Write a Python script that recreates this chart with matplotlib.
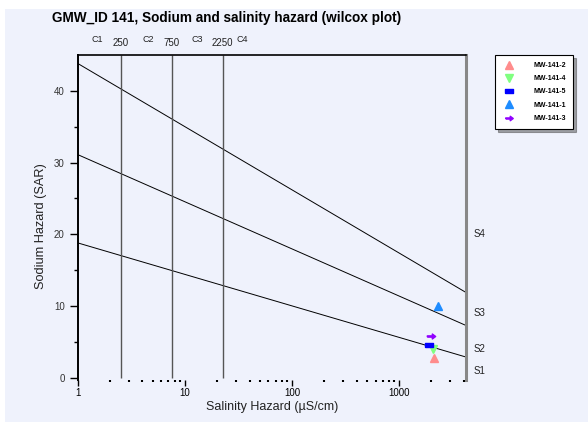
import matplotlib
matplotlib.use("Agg")
import matplotlib.pyplot as plt
from matplotlib.patches import Rectangle
import numpy as np

plt.rcParams['font.family'] = ['Liberation Sans', 'DejaVu Sans']

# ---- data ----
title = "GMW_ID 141, Sodium and salinity hazard (wilcox plot)"
boundary_x = [1, 4200]
line_s1_s2 = [18.8, 2.9]
line_s2_s3 = [31.1, 7.3]
line_s3_s4 = [43.8, 11.9]
class_lines_x = [2.5, 7.5, 22.5]
class_line_labels = ["250", "750", "2250"]
class_labels = ["C1", "C2", "C3", "C4"]
class_label_x = [1.5, 4.5, 13.0, 34.0]
sodium_labels = ["S1", "S2", "S3", "S4"]
sodium_label_y = [1.0, 4.0, 9.0, 20.0]

sample_names = ["MW-141-2", "MW-141-4", "MW-141-5", "MW-141-1", "MW-141-3"]
sample_ec = [2100, 2050, 1900, 2290, 2000]
sample_sar = [2.8, 4.0, 4.6, 10.0, 5.8]
sample_colors = ["#ff8c8c", "#80ff80", "#0000ff", "#1e8cff", "#9000ff"]

rect_marker = [(-1, -0.45), (1, -0.45), (1, 0.45), (-1, 0.45), (-1, -0.45)]
arrow_marker = [(-1, -0.15), (0.2, -0.15), (0.2, -0.6), (1, 0), (0.2, 0.6),
                (0.2, 0.15), (-1, 0.15), (-1, -0.15)]
sample_markers = ["^", "v", rect_marker, "^", arrow_marker]

bg = "#eff2fc"

fig = plt.figure(figsize=(5.88, 4.22), dpi=100)
fig.patch.set_facecolor("white")
W, H = 588, 422
fig.patches.append(Rectangle((5 / W, 0), 1 - 5 / W, 1 - 9 / H, transform=fig.transFigure,
                             facecolor=bg, edgecolor="none", zorder=-10))

ax = fig.add_axes([78 / W, 1 - 380 / H, (466 - 78) / W, (380 - 55) / H])
ax.set_facecolor(bg)
ax.set_xscale("log")
ax.set_xlim(1, 4200)
ax.set_ylim(-0.3, 45)

# boundary lines
for ys in (line_s1_s2, line_s2_s3, line_s3_s4):
    ax.plot(boundary_x, ys, color="black", lw=0.7)

# class lines
ax.vlines(class_lines_x, 0, 45, colors="#555555", lw=1.0)

# samples
for name, x, y, c, m in zip(sample_names, sample_ec, sample_sar, sample_colors, sample_markers):
    ax.plot([x], [y], linestyle="none", marker=m, color=c, markersize=6, label=name)

# spines
ax.spines["bottom"].set_visible(False)
ax.spines["left"].set_linewidth(1.4)
ax.spines["top"].set_linewidth(1.2)
ax.spines["right"].set_color("#888888")
ax.spines["right"].set_linewidth(2.2)

ax.set_yticks([0, 10, 20, 30, 40])
ax.set_yticks([5, 15, 25, 35], minor=True)
ax.set_xticks([1, 10, 100, 1000])
ax.set_xticklabels(["1", "10", "100", "1000"])
ax.tick_params(axis="both", labelsize=7, colors="black")
ax.tick_params(axis="y", which="major", length=6, width=1, direction="out", labelcolor="#333333")
ax.tick_params(axis="y", which="minor", length=3, width=1, direction="out")
ax.tick_params(axis="x", which="major", length=4, width=1, direction="out", pad=2)
ax.tick_params(axis="x", which="minor", length=1.5, width=1.5, direction="out")

ax.set_xlabel("Salinity Hazard (\u00b5S/cm)", fontsize=9, color="#222222")
ax.set_ylabel("Sodium Hazard (SAR)", fontsize=9.2, color="#222222")
ax.xaxis.set_label_coords(0.5, -0.064)
ax.yaxis.set_label_coords(-0.08, 0.474)

# top labels
for x, t in zip(class_label_x, class_labels):
    ax.text(x, 46.6, t, fontsize=6.5, ha="center", va="bottom", color="#222222")
for x, t in zip(class_lines_x, class_line_labels):
    ax.text(x, 46.0, t, fontsize=7, ha="center", va="bottom", color="#222222")

# right labels
for y, t in zip(sodium_label_y, sodium_labels):
    ax.text(1.02, (y + 0.3) / 45.3, t, transform=ax.transAxes, fontsize=7,
            ha="left", va="center", color="#222222")

fig.text(52 / W, 1 - 18 / H, title, fontsize=9.8, fontweight="bold", ha="left", va="center")

leg = ax.legend(loc="upper left", bbox_to_anchor=(495 / W, 1 - 55 / H),
                bbox_transform=fig.transFigure, fontsize=5, frameon=True,
                fancybox=False, shadow=True, edgecolor="black", facecolor="white",
                markerscale=0.9, handlelength=2.0, labelspacing=0.9, borderpad=1.0,
                handletextpad=2.6, borderaxespad=0)
leg.get_frame().set_linewidth(0.8)
for t in leg.get_texts():
    t.set_fontweight("bold")

fig.savefig("out.png", dpi=100, facecolor=fig.get_facecolor())
